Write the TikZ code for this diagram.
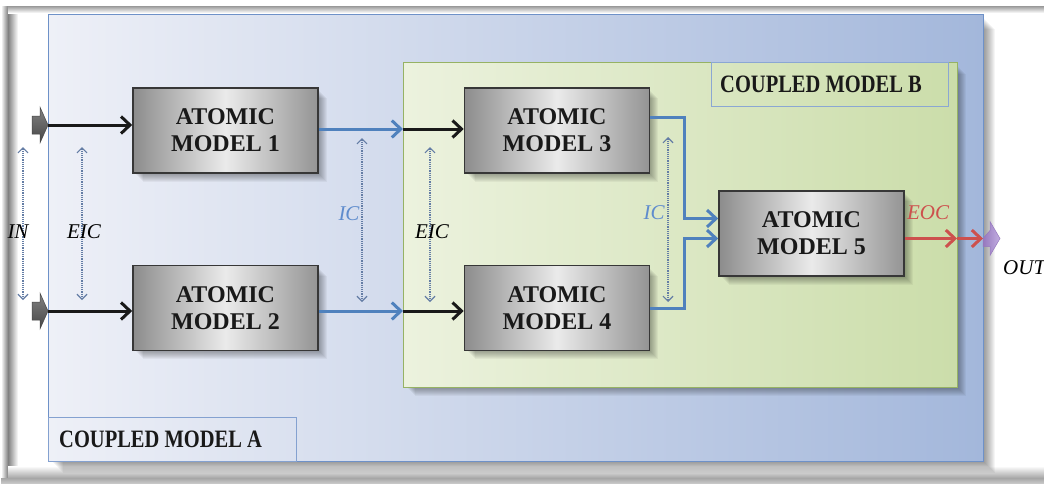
\documentclass[tikz,border=0pt]{standalone}
\usepackage{fontspec}
\setmainfont{Liberation Serif}
\newfontfamily\boxfont{Liberation Serif}
\newfontfamily\cmfont[FakeStretch=0.82]{Liberation Serif}
\usetikzlibrary{arrows.meta,backgrounds,calc}
\definecolor{cblue}{RGB}{79,129,189}
\definecolor{cred}{RGB}{205,80,77}
\definecolor{cdot}{RGB}{100,125,165}
\definecolor{Aleft}{RGB}{238,240,247}
\definecolor{Aright}{RGB}{163,183,219}
\definecolor{Aedge}{RGB}{110,145,200}
\definecolor{Bleft}{RGB}{236,242,222}
\definecolor{Bright}{RGB}{203,221,170}
\definecolor{Bedge}{RGB}{150,178,100}
\definecolor{boxedge}{RGB}{55,55,55}
\definecolor{icblue}{RGB}{95,140,205}
\definecolor{portA}{RGB}{70,70,70}
\definecolor{portB}{RGB}{130,130,130}
\definecolor{outA}{RGB}{150,120,190}
\definecolor{outB}{RGB}{195,175,225}
\tikzset{
  atomic/.style={draw=boxedge, line width=1.6pt, minimum width=185pt, minimum height=85pt,
    inner sep=0pt, left color=black!45, right color=black!42, middle color=black!8,
    font=\boxfont\bfseries\fontsize{24}{27}\selectfont, align=center, text=black!90},
  blk/.style={line width=3pt, black!90, -{Straight Barb[length=9pt,width=17pt]}},
  blu/.style={line width=3pt, cblue, -{Straight Barb[length=9pt,width=17pt]}},
  redarr/.style={line width=3pt, cred, -{Straight Barb[length=9pt,width=17pt]}},
  dotarr/.style={cdot, line width=1.2pt, densely dotted,
    {Straight Barb[length=5pt,width=10pt]}-{Straight Barb[length=5pt,width=10pt]}},
  lab/.style={font=\itshape\fontsize{21}{21}\selectfont, inner sep=0pt},
  cmlab/.style={font=\cmfont\bfseries\fontsize{25}{25}\selectfont, inner sep=0pt, text=black!90},
}
\begin{document}
\begin{tikzpicture}[x=1pt,y=-1pt]
\useasboundingbox (0,0) rectangle (1044,483);
\clip (0,0) rectangle (1044,483);

% atomic models
\node[atomic] (am1) at (225.5,130.5) {ATOMIC\\MODEL 1};
\node[atomic] (am2) at (225.5,308) {ATOMIC\\MODEL 2};
\node[atomic] (am3) at (557,130.5) {ATOMIC\\MODEL 3};
\node[atomic] (am4) at (557,308) {ATOMIC\\MODEL 4};
\node[atomic] (am5) at (811.5,233.5) {ATOMIC\\MODEL 5};

\begin{pgfonlayer}{background}
  % page frame
  \fill[white] (0,0) rectangle (1044,483);
  \shade[left color=white, right color=black!50] (1,6) rectangle (8,480);
  \shade[left color=black!50, right color=white] (8,6) rectangle (18,480);
  \shade[top color=black!40, bottom color=white] (8,6) rectangle (1044,13);
  \shade[top color=white, bottom color=black!35] (8,466) rectangle (1044,478);
  \shade[top color=black!35, bottom color=black!22] (1,478) rectangle (1044,483);
  % coupled model A
  \foreach \i in {1,...,12}
    \fill[black, opacity=0.04] (51+\i,17+\i) rectangle (983+\i,461+\i);
  \shade[left color=Aleft, right color=Aright] (48,14) rectangle (983,461);
  \draw[Aedge, line width=1pt] (48,14) rectangle (983,461);
  \draw[Aedge!85, line width=0.8pt] (48,417) rectangle (296,461);
  % coupled model B
  \foreach \i in {1,...,9}
    \fill[black, opacity=0.045] (406+\i,65+\i) rectangle (957+\i,387+\i);
  \shade[left color=Bleft, right color=Bright] (403,62) rectangle (957,387);
  \draw[Bedge, line width=1pt] (403,62) rectangle (957,387);
  \draw[Aedge!80, line width=0.8pt] (711,62) rectangle (948,106);
  % atomic shadows
  \foreach \n in {am1,am2,am3,am4,am5}
    \foreach \i in {1,...,8}
      \fill[black, opacity=0.045] ($(\n.north west)+(3+\i,3+\i)$) rectangle ($(\n.south east)+(\i,\i)$);
\end{pgfonlayer}

% container labels
\node[cmlab, anchor=west] (labA) at (59,439) {COUPLED MODEL A};
\node[cmlab, anchor=west] (labB) at (720,84) {COUPLED MODEL B};

% ports and connection points
\coordinate (inA) at (48,125);
\coordinate (inB) at (48,311);
\coordinate (b1) at (403,129);
\coordinate (b2) at (403,311);
\coordinate (bout) at (957,238.5);
\coordinate (aout) at (983,238.5);

\foreach \p in {inA,inB}
  \shade[top color=portB, bottom color=portA, draw=portA, line width=0.5pt]
    ($(\p)+(-16,-9)$) -- ($(\p)+(-8,-9)$) -- ($(\p)+(-8,-18)$) -- (\p)
    -- ($(\p)+(-8,18)$) -- ($(\p)+(-8,9)$) -- ($(\p)+(-16,9)$) -- cycle;
\shade[left color=outA, right color=outB, draw=outA, line width=0.5pt]
  (aout) -- ($(aout)+(7,-8)$) -- ($(aout)+(7,-17)$) -- ($(aout)+(17,0)$)
  -- ($(aout)+(7,17)$) -- ($(aout)+(7,8)$) -- ($(aout)+(0,8)$) -- cycle;

% connectors
\draw[blk] (inA) -- (am1.west |- inA);
\draw[blk] (inB) -- (am2.west |- inB);
\draw[blu] (am1.east |- b1) -- (b1);
\draw[blu] (am2.east |- b2) -- (b2);
\draw[blk] (b1) -- (am3.west |- b1);
\draw[blk] (b2) -- (am4.west |- b2);
\draw[blu] ($(am3.east)+(0,-13)$) -- ++(34,0) |- ($(am5.west)+(0,-15)$);
\draw[blu] (am4.east) -- ++(34,0) |- ($(am5.west)+(0,5)$);
\draw[redarr] ($(am5.east)+(0,5)$) -- (bout);
\draw[redarr] (bout) -- (aout);

% dotted double arrows
\coordinate (d1t) at (23,147);  \coordinate (d1b) at (23,300);
\coordinate (d2t) at (82,147);  \coordinate (d2b) at (82,300);
\coordinate (d3t) at (362,138); \coordinate (d3b) at (362,302);
\coordinate (d4t) at (430,147); \coordinate (d4b) at (430,302);
\coordinate (d5t) at (668,137); \coordinate (d5b) at (668,302);
\draw[dotarr] (d1t) -- (d1b);
\draw[dotarr] (d2t) -- (d2b);
\draw[dotarr] (d3t) -- (d3b);
\draw[dotarr] (d4t) -- (d4b);
\draw[dotarr] (d5t) -- (d5b);

% labels
\node[lab] (lin) at (18,232) {IN};
\node[lab] (leic1) at (84,232) {EIC};
\node[lab, text=icblue] (lic1) at (349,214) {IC};
\node[lab] (leic2) at (432,232) {EIC};
\node[lab, text=icblue] (lic2) at (654,213) {IC};
\node[lab, text=cred] (leoc) at (928,213) {EOC};
\node[lab, anchor=west] (lout) at (1003,268) {OUT};
\end{tikzpicture}
\end{document}
